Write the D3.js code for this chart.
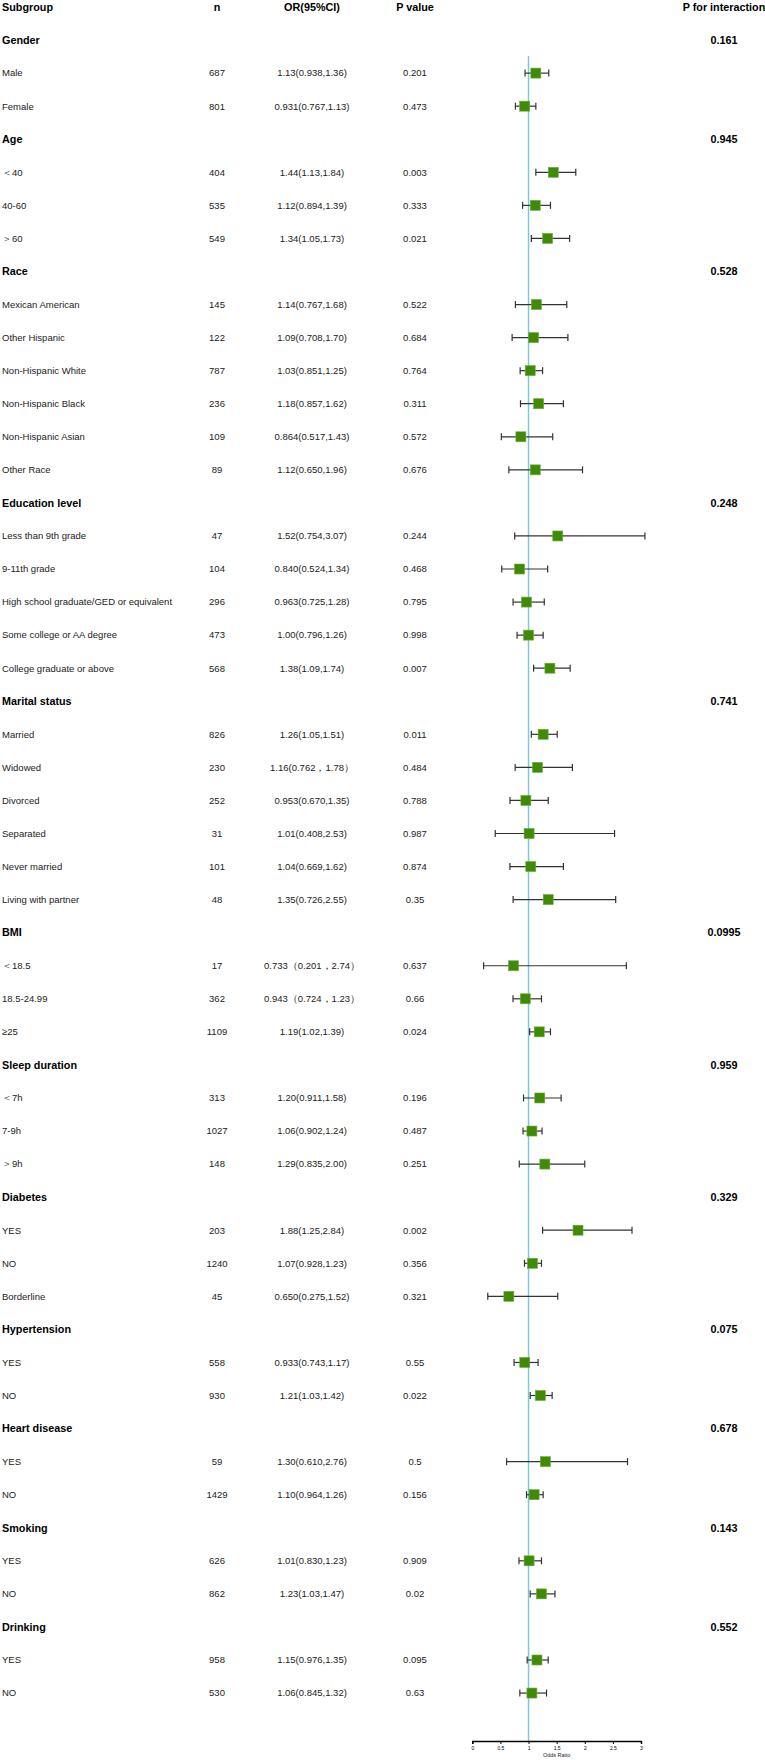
<!DOCTYPE html>
<html>
<head>
<meta charset="utf-8">
<script src="https://cdn.jsdelivr.net/npm/d3@7"></script>
<style>
  body { margin: 0; background: #fff; }
  svg { display: block; font-family: "Liberation Sans", Arial, sans-serif; }
</style>
</head>
<body>
<svg id="chart"></svg>
<script>
// group headers + p for interaction
const groupNames = ['Gender', 'Age', 'Race', 'Education level', 'Marital status', 'BMI',
  'Sleep duration', 'Diabetes', 'Hypertension', 'Heart disease', 'Smoking', 'Drinking'];
const groupPInt = ['0.161', '0.945', '0.528', '0.248', '0.741', '0.0995',
  '0.959', '0.329', '0.075', '0.678', '0.143', '0.552'];
const groupSizes = [2, 3, 6, 5, 6, 3, 3, 3, 2, 2, 2, 2];

// subgroup rows
const subgroups = ['Male', 'Female',
  '＜40', '40-60', '＞60',
  'Mexican American', 'Other Hispanic', 'Non-Hispanic White', 'Non-Hispanic Black', 'Non-Hispanic Asian', 'Other Race',
  'Less than 9th grade', '9-11th grade', 'High school graduate/GED or equivalent', 'Some college or AA degree', 'College graduate or above',
  'Married', 'Widowed', 'Divorced', 'Separated', 'Never married', 'Living with partner',
  '＜18.5', '18.5-24.99', '≥25',
  '＜7h', '7-9h', '＞9h',
  'YES', 'NO', 'Borderline',
  'YES', 'NO',
  'YES', 'NO',
  'YES', 'NO',
  'YES', 'NO'];
const nValues = [687, 801, 404, 535, 549, 145, 122, 787, 236, 109, 89, 47, 104, 296, 473, 568,
  826, 230, 252, 31, 101, 48, 17, 362, 1109, 313, 1027, 148, 203, 1240, 45, 558, 930, 59, 1429,
  626, 862, 958, 530];
const orValues = [1.13, 0.931, 1.44, 1.12, 1.34, 1.14, 1.09, 1.03, 1.18, 0.864, 1.12, 1.52, 0.840,
  0.963, 1.00, 1.38, 1.26, 1.16, 0.953, 1.01, 1.04, 1.35, 0.733, 0.943, 1.19, 1.20, 1.06, 1.29,
  1.88, 1.07, 0.650, 0.933, 1.21, 1.30, 1.10, 1.01, 1.23, 1.15, 1.06];
const ciLower = [0.938, 0.767, 1.13, 0.894, 1.05, 0.767, 0.708, 0.851, 0.857, 0.517, 0.650, 0.754,
  0.524, 0.725, 0.796, 1.09, 1.05, 0.762, 0.670, 0.408, 0.669, 0.726, 0.201, 0.724, 1.02, 0.911,
  0.902, 0.835, 1.25, 0.928, 0.275, 0.743, 1.03, 0.610, 0.964, 0.830, 1.03, 0.976, 0.845];
const ciUpper = [1.36, 1.13, 1.84, 1.39, 1.73, 1.68, 1.70, 1.25, 1.62, 1.43, 1.96, 3.07, 1.34, 1.28,
  1.26, 1.74, 1.51, 1.78, 1.35, 2.53, 1.62, 2.55, 2.74, 1.23, 1.39, 1.58, 1.24, 2.00, 2.84, 1.23,
  1.52, 1.17, 1.42, 2.76, 1.26, 1.23, 1.47, 1.35, 1.32];
const orLabels = ['1.13(0.938,1.36)', '0.931(0.767,1.13)',
  '1.44(1.13,1.84)', '1.12(0.894,1.39)', '1.34(1.05,1.73)',
  '1.14(0.767,1.68)', '1.09(0.708,1.70)', '1.03(0.851,1.25)', '1.18(0.857,1.62)', '0.864(0.517,1.43)', '1.12(0.650,1.96)',
  '1.52(0.754,3.07)', '0.840(0.524,1.34)', '0.963(0.725,1.28)', '1.00(0.796,1.26)', '1.38(1.09,1.74)',
  '1.26(1.05,1.51)', '1.16(0.762，1.78）', '0.953(0.670,1.35)', '1.01(0.408,2.53)', '1.04(0.669,1.62)', '1.35(0.726,2.55)',
  '0.733（0.201，2.74）', '0.943（0.724，1.23）', '1.19(1.02,1.39)',
  '1.20(0.911,1.58)', '1.06(0.902,1.24)', '1.29(0.835,2.00)',
  '1.88(1.25,2.84)', '1.07(0.928,1.23)', '0.650(0.275,1.52)',
  '0.933(0.743,1.17)', '1.21(1.03,1.42)',
  '1.30(0.610,2.76)', '1.10(0.964,1.26)',
  '1.01(0.830,1.23)', '1.23(1.03,1.47)',
  '1.15(0.976,1.35)', '1.06(0.845,1.32)'];
const pValues = ['0.201', '0.473', '0.003', '0.333', '0.021', '0.522', '0.684', '0.764', '0.311',
  '0.572', '0.676', '0.244', '0.468', '0.795', '0.998', '0.007', '0.011', '0.484', '0.788', '0.987',
  '0.874', '0.35', '0.637', '0.66', '0.024', '0.196', '0.487', '0.251', '0.002', '0.356', '0.321',
  '0.55', '0.022', '0.5', '0.156', '0.909', '0.02', '0.095', '0.63'];
const xTicks = [0, 0.5, 1, 1.5, 2, 2.5, 3];

// build row table: one header row per group, then its subgroups
let rows = [], k = 0;
groupNames.forEach(function (g, gi) {
    rows.push({ type: 'group', label: g, pint: groupPInt[gi] });
    for (let j = 0; j < groupSizes[gi]; j++, k++) {
        rows.push({ type: 'sub', label: subgroups[k], n: nValues[k], or: orValues[k],
            lo: ciLower[k], hi: ciUpper[k], orText: orLabels[k], p: pValues[k] });
    }
});

const W = 765, H = 1760;
let svg = d3.select('#chart').attr('width', W).attr('height', H);
svg.append('rect').attr('width', W).attr('height', H).attr('fill', '#fff');

// row positions (row 0 = column header)
let yScale = d3.scaleLinear().domain([0, rows.length]).range([7, 7 + 33.06 * rows.length]);
let xScale = d3.scaleLinear().domain([0, 3]).range([472.3, 641]);

const col = { label: 2, n: 217, or: 312, p: 415, pint: 724 };
const axisY = 1741;

// column headers
let head = svg.append('g').attr('font-weight', 'bold').attr('font-size', '10.8px').attr('fill', '#000');
[['Subgroup', col.label, 'start'], ['n', col.n, 'middle'], ['OR(95%CI)', col.or, 'middle'],
 ['P value', col.p, 'middle'], ['P for interaction', col.pint, 'middle']].forEach(function (h) {
    head.append('text')
        .attr('x', h[1]).attr('y', yScale(0))
        .attr('dy', '.35em')
        .attr('text-anchor', h[2])
        .text(h[0]);
});

// reference line at OR = 1
svg.append('line')
    .attr('x1', xScale(1)).attr('x2', xScale(1))
    .attr('y1', yScale(2) - 17).attr('y2', axisY)
    .attr('stroke', '#7cc7de')
    .attr('stroke-width', 1.5);

let row = svg.selectAll('.row')
    .data(rows)
    .enter().append('g')
    .attr('class', 'row')
    .attr('transform', function (d, i) { return 'translate(0,' + yScale(i + 1) + ')'; });

let grp = row.filter(function (d) { return d.type === 'group'; })
    .attr('font-weight', 'bold').attr('font-size', '10.8px');
grp.append('text').attr('x', col.label).attr('dy', '.35em').text(function (d) { return d.label; });
grp.append('text').attr('x', col.pint).attr('dy', '.35em').attr('text-anchor', 'middle')
    .text(function (d) { return d.pint; });

let sub = row.filter(function (d) { return d.type === 'sub'; })
    .attr('font-size', '9.5px').attr('fill', '#222');
sub.append('text').attr('x', col.label).attr('dy', '.35em').text(function (d) { return d.label; });
sub.append('text').attr('x', col.n).attr('dy', '.35em').attr('text-anchor', 'middle')
    .text(function (d) { return d.n; });
sub.append('text').attr('x', col.or).attr('dy', '.35em').attr('text-anchor', 'middle')
    .text(function (d) { return d.orText; });
sub.append('text').attr('x', col.p).attr('dy', '.35em').attr('text-anchor', 'middle')
    .text(function (d) { return d.p; });

// CI whiskers
sub.append('line')
    .attr('x1', function (d) { return xScale(d.lo); })
    .attr('x2', function (d) { return xScale(d.hi); })
    .attr('stroke', '#333').attr('stroke-width', 1.2);
['lo', 'hi'].forEach(function (key) {
    sub.append('line')
        .attr('x1', function (d) { return xScale(d[key]); })
        .attr('x2', function (d) { return xScale(d[key]); })
        .attr('y1', -3.5).attr('y2', 3.5)
        .attr('stroke', '#333').attr('stroke-width', 1.2);
});

// point estimate squares
sub.append('rect')
    .attr('x', function (d) { return xScale(d.or) - 5; })
    .attr('y', -5)
    .attr('width', 10).attr('height', 10)
    .attr('fill', '#418a04')
    .attr('stroke', '#6eaa45').attr('stroke-width', 0.6);

// x axis
let axis = svg.append('g')
    .attr('transform', 'translate(0,' + axisY + ')')
    .call(d3.axisBottom(xScale).tickValues(xTicks).tickSize(3).tickPadding(2)
        .tickFormat(function (d) { return d; }));
axis.select('.domain').attr('stroke', '#000').attr('stroke-width', 1.5);
axis.selectAll('.tick line').attr('stroke', '#000').attr('stroke-width', 1);
axis.selectAll('.tick text').attr('font-size', '5px').attr('font-family', '"Liberation Sans", Arial, sans-serif');

svg.append('text')
    .attr('x', xScale(1.5)).attr('y', 1757)
    .attr('text-anchor', 'middle')
    .attr('font-size', '5.5px')
    .attr('fill', '#222')
    .text('Odds Ratio');
</script>
</body>
</html>
